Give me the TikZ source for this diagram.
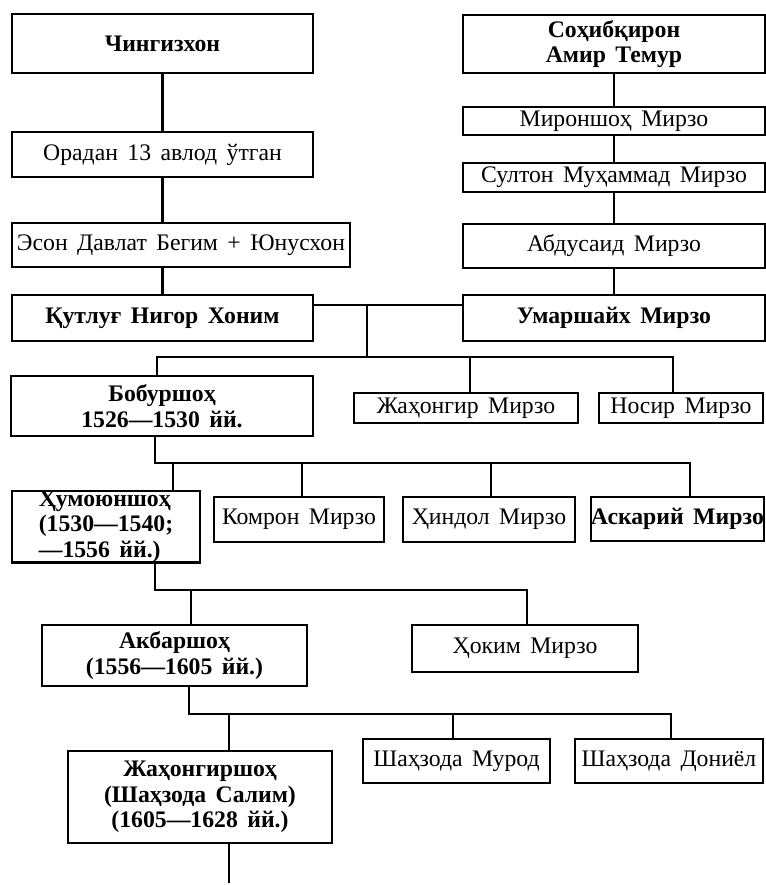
\documentclass[tikz,border=0pt]{standalone}
\usepackage{fontspec}
\setmainfont{Liberation Serif}[WordSpace=1.6]

\tikzset{
  boxsize/.style 2 args={minimum width=#1*0.02cm, minimum height=#2*0.02cm},
  person/.style={draw, line width=1.4pt, inner sep=0pt, align=center,
    font=\fontsize{13.5}{14.5}\selectfont},
  ruler/.style={person, font=\fontsize{13.5}{14.5}\selectfont\bfseries},
  kin/.style={line width=1.4pt, line cap=rect},
}

\begin{document}
\begin{tikzpicture}[x=0.02cm, y=-0.02cm]
  \useasboundingbox (0,0) rectangle (766,885);

  % Chingiz side
  \node[ruler, boxsize={301}{59}] (chingiz) at (162.5,43.5) {Чингизхон};
  \node[person, boxsize={301}{45}] (oradan) at (162.5,154.5) {Орадан 13 авлод ўтган};
  \node[person, boxsize={338}{44}] (eson) at (181,245) {Эсон Давлат Бегим + Юнусхон};
  \node[ruler, boxsize={301}{46}] (qutlug) at (162.5,318) {Қутлуғ Нигор Хоним};

  % Temur side
  \node[ruler, boxsize={302}{58}] (temur) at (614,44) {Соҳибқирон\\Амир Темур};
  \node[person, boxsize={302}{28}] (miron) at (614,121) {Мироншоҳ Мирзо};
  \node[person, boxsize={302}{29}] (sulton) at (614,177.5) {Султон Муҳаммад Мирзо};
  \node[person, boxsize={302}{44}] (abdu) at (614,246) {Абдусаид Мирзо};
  \node[ruler, boxsize={302}{46}] (umar) at (614,318) {Умаршайх Мирзо};

  % Sons of Umarshaikh
  \node[ruler, boxsize={302}{60}] (bobur) at (162,406) {Бобуршоҳ\\1526—1530 йй.};
  \node[person, boxsize={224}{30}] (jahon) at (466,408) {Жаҳонгир Мирзо};
  \node[person, boxsize={164}{30}] (nosir) at (681,408) {Носир Мирзо};

  % Sons of Bobur
  \node[ruler, boxsize={188}{69}, align=left] (humo) at (106,526.5) {Ҳумоюншоҳ\\(1530—1540;\\—1556 йй.)};
  \node[person, boxsize={170}{45}] (komron) at (299,519.5) {Комрон Мирзо};
  \node[person, boxsize={172}{45}] (hindol) at (489,519.5) {Ҳиндол Мирзо};
  \node[ruler, boxsize={171}{44}] (askar) at (677.5,519) {Аскарий Мирзо};

  % Sons of Humoyun
  \node[ruler, boxsize={265}{61}] (akbar) at (174.5,655.5) {Акбаршоҳ\\(1556—1605 йй.)};
  \node[person, boxsize={226}{47}] (hokim) at (525,648.5) {Ҳоким Мирзо};

  % Sons of Akbar
  \node[ruler, boxsize={264}{92}] (jahshoh) at (200,797) {Жаҳонгиршоҳ\\(Шаҳзода Салим)\\(1605—1628 йй.)};
  \node[person, boxsize={187}{44}] (murod) at (456.5,761) {Шаҳзода Мурод};
  \node[person, boxsize={188}{44}] (doniyol) at (669,761) {Шаҳзода Дониёл};

  % Junctions
  \coordinate (wed) at (367,305);
  \coordinate (bus1) at (367,357);
  \coordinate (d-bobur) at (157,357);
  \coordinate (d-jahon) at (470,357);
  \coordinate (d-nosir) at (673,357);
  \coordinate (up-bobur) at (155,463);
  \coordinate (d-humo) at (173,463);
  \coordinate (d-komron) at (302,463);
  \coordinate (d-hindol) at (491,463);
  \coordinate (d-askar) at (690,463);
  \coordinate (up-humo) at (155,590);
  \coordinate (d-akbar) at (191,590);
  \coordinate (d-hokim) at (527,590);
  \coordinate (up-akbar) at (189,714);
  \coordinate (d-jahshoh) at (229,714);
  \coordinate (d-murod) at (453,714);
  \coordinate (d-doniyol) at (671,714);
  \coordinate (tail) at (229,882);

  % Lines
  \draw[kin] (chingiz) -- (oradan);
  \draw[kin] (oradan.south) -- (oradan.south |- eson.north);
  \draw[kin] (qutlug.north |- eson.south) -- (qutlug.north);
  \draw[kin] (temur) -- (miron) -- (sulton) -- (abdu) -- (umar);

  \draw[kin] (qutlug.east |- wed) -- (umar.west |- wed);
  \draw[kin] (wed) -- (bus1);
  \draw[kin] (d-bobur) -- (d-nosir);
  \draw[kin] (d-bobur) -- (d-bobur |- bobur.north);
  \draw[kin] (d-jahon) -- (d-jahon |- jahon.north);
  \draw[kin] (d-nosir) -- (d-nosir |- nosir.north);

  \draw[kin] (up-bobur |- bobur.south) -- (up-bobur) -- (d-askar);
  \draw[kin] (d-humo) -- (d-humo |- humo.north);
  \draw[kin] (d-komron) -- (d-komron |- komron.north);
  \draw[kin] (d-hindol) -- (d-hindol |- hindol.north);
  \draw[kin] (d-askar) -- (d-askar |- askar.north);

  \draw[kin] (up-humo |- humo.south) -- (up-humo) -- (d-hokim);
  \draw[kin] (d-akbar) -- (d-akbar |- akbar.north);
  \draw[kin] (d-hokim) -- (d-hokim |- hokim.north);

  \draw[kin] (up-akbar |- akbar.south) -- (up-akbar) -- (d-doniyol);
  \draw[kin] (d-jahshoh) -- (d-jahshoh |- jahshoh.north);
  \draw[kin] (d-murod) -- (d-murod |- murod.north);
  \draw[kin] (d-doniyol) -- (d-doniyol |- doniyol.north);
  \draw[kin] (tail |- jahshoh.south) -- (tail);
\end{tikzpicture}
\end{document}
